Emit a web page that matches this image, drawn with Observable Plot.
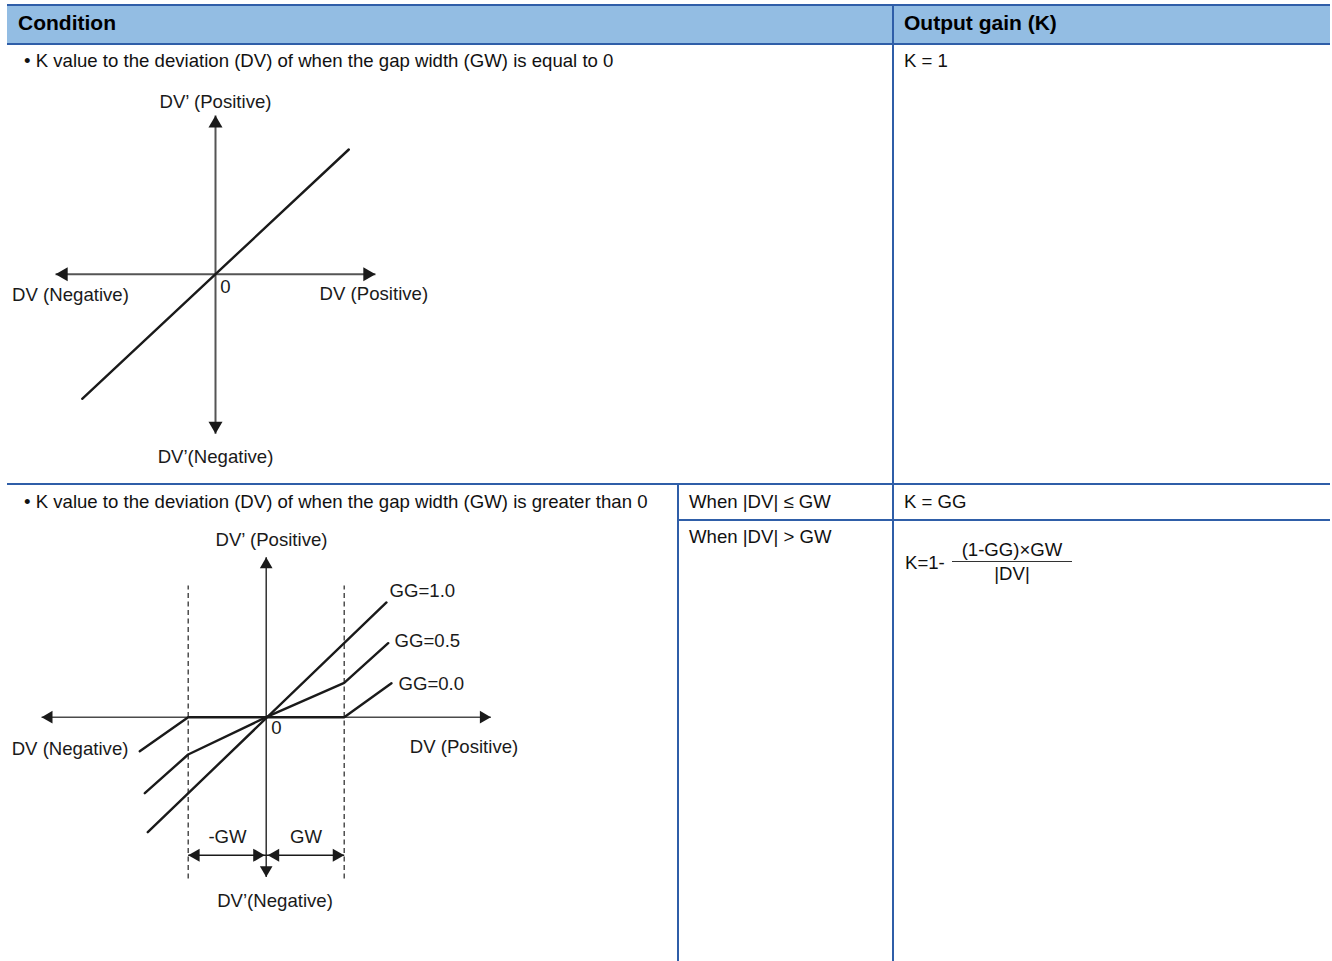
<!DOCTYPE html>
<html><head><meta charset="utf-8">
<script src="https://cdn.jsdelivr.net/npm/d3@7"></script>
<script src="https://cdn.jsdelivr.net/npm/@observablehq/plot@0.6"></script>
<style>
body{margin:0;background:#fff;font-family:"Liberation Sans",Arial,sans-serif;color:#000}
#page{position:relative;width:1332px;height:961px;overflow:hidden;background:#fff}
.box{position:absolute}
.t{position:absolute;white-space:nowrap;font-size:18.6px;line-height:18px;color:#111}
.h{font-weight:bold;font-size:21px;line-height:21px;color:#000}
.plot{position:absolute}
</style></head><body><div id="page"></div>
<script>
// ---------- table texts ----------
const headers = ["Condition", "Output gain (K)"];
const conditionTexts = [
  "• K value to the deviation (DV) of when the gap width (GW) is equal to 0",
  "• K value to the deviation (DV) of when the gap width (GW) is greater than 0"
];
const rangeTexts = ["When |DV| ≤ GW", "When |DV| > GW"];
const gainTexts = ["K = 1", "K = GG"];
const formulaParts = ["K=1-", "(1-GG)×GW", "|DV|"];

// ---------- diagram 1 (GW = 0) ----------
const d1Line = [{dv: -1, out: -1}, {dv: 1, out: 1}];
const d1Axes = [
  {x1: -1.2, y1: 0, x2: 1.2, y2: 0},
  {x1: 0, y1: -1.281, x2: 0, y2: 1.273}
];
const d1Heads = [
  {x: 1.2, y: 0, dir: "right"}, {x: -1.2, y: 0, dir: "left"},
  {x: 0, y: 1.273, dir: "up"}, {x: 0, y: -1.281, dir: "down"}
];
const d1Labels = [
  {x: 0, y: 1.379, text: "DV’ (Positive)", anchor: "middle"},
  {x: 0, y: -1.469, text: "DV’(Negative)", anchor: "middle"},
  {x: -1.088, y: -0.171, text: "DV (Negative)", anchor: "middle"},
  {x: 1.188, y: -0.157, text: "DV (Positive)", anchor: "middle"},
  {x: 0.075, y: -0.105, text: "0", anchor: "middle"}
];

// ---------- diagram 2 (GW > 0), x in units of GW ----------
const gg10 = [{dv: -1.518, out: -1.474}, {dv: 1.542, out: 1.471}];
const gg05 = [{dv: -1.556, out: -0.974}, {dv: -1, out: -0.478}, {dv: 0, out: 0}, {dv: 1, out: 0.441}, {dv: 1.564, out: 0.949}];
const gg00 = [{dv: -1.621, out: -0.436}, {dv: -1, out: 0}, {dv: 1, out: 0}, {dv: 1.606, out: 0.436}];
const seriesNames = ["GG=1.0", "GG=0.5", "GG=0.0"];
const d2Rows = [gg10, gg05, gg00].flatMap((pts, i) => pts.map(p => ({...p, series: seriesNames[i]})));
const d2Axes = [
  {x1: -2.88, y1: 0, x2: 2.88, y2: 0, w: 1.6, c: "#4a4a4a"},
  {x1: 0, y1: -2.05, x2: 0, y2: 2.05, w: 1.4, c: "#222"}
];
const d2Gap = [{x: -1, y1: -2.068, y2: 1.688}, {x: 1, y1: -2.068, y2: 1.688}];
const d2Dims = [{x1: -1, x2: 0, y: -1.77}, {x1: 0, x2: 1, y: -1.77}];
const d2Heads = [
  {x: 2.88, y: 0, dir: "right"}, {x: -2.88, y: 0, dir: "left"},
  {x: 0, y: 2.05, dir: "up"}, {x: 0, y: -2.05, dir: "down"}
];
const d2DimHeads = [
  {x: -1, y: -1.77, dir: "left"}, {x: -0.02, y: -1.77, dir: "right"},
  {x: 0.02, y: -1.77, dir: "left"}, {x: 1, y: -1.77, dir: "right"}
];
const d2Labels = [
  {x: 0.068, y: 2.265, text: "DV’ (Positive)", anchor: "middle"},
  {x: 0.113, y: -2.363, text: "DV’(Negative)", anchor: "middle"},
  {x: -2.515, y: -0.414, text: "DV (Negative)", anchor: "middle"},
  {x: 2.536, y: -0.388, text: "DV (Positive)", anchor: "middle"},
  {x: 0.132, y: -0.145, text: "0", anchor: "middle"},
  {x: 1.581, y: 1.612, text: "GG=1.0", anchor: "start"},
  {x: 1.645, y: 0.971, text: "GG=0.5", anchor: "start"},
  {x: 1.696, y: 0.419, text: "GG=0.0", anchor: "start"},
  {x: -0.496, y: -1.542, text: "-GW", anchor: "middle"},
  {x: 0.51, y: -1.542, text: "GW", anchor: "middle"}
];

// ---------- helpers ----------
const page = document.getElementById("page");
const BLUE = "#2f5ea8";
const FS = 18.6;
function box(l, t, w, h, bg) {
  const d = document.createElement("div");
  d.className = "box";
  Object.assign(d.style, {left: l + "px", top: t + "px", width: w + "px", height: h + "px", background: bg});
  page.appendChild(d);
  return d;
}
function text(str, l, t, cls, center) {
  const d = document.createElement("div");
  d.className = "t" + (cls ? " " + cls : "");
  d.textContent = str;
  d.style.left = l + "px";
  d.style.top = t + "px";
  if (center) d.style.transform = "translateX(-50%)";
  page.appendChild(d);
  return d;
}
function heads(data, r, fill) {
  const tip = 1.555 * r;
  const cfg = {right: [90, -tip, 0], left: [-90, tip, 0], up: [0, 0, tip], down: [180, 0, -tip]};
  return Object.entries(cfg).map(([dir, [rot, dx, dy]]) =>
    Plot.dot(data.filter(d => d.dir === dir), {x: "x", y: "y", symbol: "triangle", r, fill, stroke: "none", rotate: rot, dx, dy}));
}
const plotStyle = {background: "transparent", fontFamily: "'Liberation Sans', Arial, sans-serif", fontSize: FS + "px", overflow: "visible"};

// ---------- table ----------
box(7, 5, 1323, 38, "#93bde3");
box(7, 4, 1323, 2, BLUE);
box(7, 42.5, 1323, 2, BLUE);
box(892, 4, 2.3, 957, BLUE);
box(7, 483.3, 1323, 2, BLUE);
box(677, 484, 2, 477, BLUE);
box(678, 519, 652, 2, BLUE);

text(headers[0], 18, 11.7, "h");
text(headers[1], 904, 11.7, "h");
text(conditionTexts[0], 24, 52.3);
text(gainTexts[0], 904, 52.3);
text(conditionTexts[1], 24, 492.5);
text(rangeTexts[0], 689, 492.5);
text(gainTexts[1], 904, 492.5);
text(rangeTexts[1], 689, 528.3);
text(formulaParts[0], 905, 553.8);
text(formulaParts[1], 1012, 540.8, "", true);
text(formulaParts[2], 1012, 564.8, "", true);
box(952, 561, 120, 1.3, "#333");

// ---------- diagram 1 ----------
const p1 = Plot.plot({
  width: 450, height: 400, margin: 0,
  x: {domain: [-1, 1], range: [81.7, 348.3], axis: null},
  y: {domain: [-1, 1], range: [318.3, 69], axis: null},
  style: plotStyle,
  marks: [
    Plot.link(d1Axes, {x1: "x1", y1: "y1", x2: "x2", y2: "y2", stroke: "#555", strokeWidth: 2}),
    ...heads(d1Heads, 5.2, "#1a1a1a"),
    Plot.line(d1Line, {x: "dv", y: "out", stroke: "#1a1a1a", strokeWidth: 2.4}),
    Plot.text(d1Labels, {x: "x", y: "y", text: "text", textAnchor: "middle", fontSize: FS, fill: "#1a1a1a"})
  ]
});
p1.classList.add("plot");
p1.style.left = "0px"; p1.style.top = "80px";
page.appendChild(p1);

// ---------- diagram 2 ----------
const p2 = Plot.plot({
  width: 560, height: 400, margin: 0,
  x: {domain: [-1, 1], range: [187.7, 343.7], axis: null},
  y: {domain: [0, 1], range: [196.7, 118.7], axis: null},
  style: plotStyle,
  marks: [
    Plot.link(d2Gap, {x1: "x", x2: "x", y1: "y1", y2: "y2", stroke: "#333", strokeWidth: 1.3, strokeDasharray: "5,3.5"}),
    Plot.link(d2Axes, {x1: "x1", y1: "y1", x2: "x2", y2: "y2", stroke: "c", strokeWidth: "w"}),
    ...heads(d2Heads, 4.7, "#1a1a1a"),
    Plot.link(d2Dims, {x1: "x1", x2: "x2", y1: "y", y2: "y", stroke: "#1a1a1a", strokeWidth: 1.6}),
    ...heads(d2DimHeads, 4.9, "#1a1a1a"),
    Plot.line(d2Rows, {x: "dv", y: "out", z: "series", stroke: "#1a1a1a", strokeWidth: 2.4, strokeLinejoin: "miter"}),
    Plot.text(d2Labels.filter(d => d.anchor === "middle"), {x: "x", y: "y", text: "text", textAnchor: "middle", fontSize: FS, fill: "#1a1a1a"}),
    Plot.text(d2Labels.filter(d => d.anchor === "start"), {x: "x", y: "y", text: "text", textAnchor: "start", fontSize: FS, fill: "#1a1a1a"})
  ]
});
p2.classList.add("plot");
p2.style.left = "0px"; p2.style.top = "520px";
page.appendChild(p2);
</script>
</body></html>
